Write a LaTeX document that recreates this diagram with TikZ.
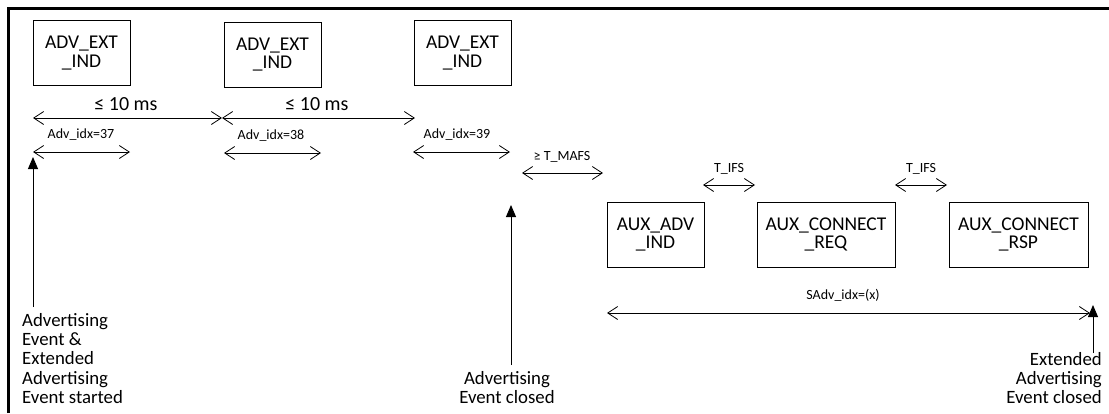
\documentclass[tikz,border=0pt]{standalone}
\usepackage{fontspec}
\setmainfont{Carlito}
\usetikzlibrary{arrows.meta,positioning}

\begin{document}
\begin{tikzpicture}[
  x=1pt, y=-1pt,
  pkt/.style={draw, line width=0.9pt, align=center, inner sep=0pt, minimum width=97pt, minimum height=65pt, font=\fontsize{19.5}{18.5}\selectfont},
  span/.style={{Straight Barb[length=10pt,width=13pt]}-{Straight Barb[length=10pt,width=13pt]}, line width=0.8pt},
  evt/.style={-{Triangle[length=12pt,width=10pt]}, line width=0.9pt},
  lbl/.style={inner sep=0pt, font=\fontsize{14}{16}\selectfont},
  gap/.style={inner sep=0pt, font=\fontsize{20}{22}\selectfont},
  note/.style={inner sep=0pt, font=\fontsize{18.8}{19.3}\selectfont}
]
  \useasboundingbox (0,0) rectangle (1109,413);
  \draw[line width=3pt] (8,413) -- (8,8) -- (1109,8);

  % advertising packets
  \node[pkt] (ext1) at (81.5,53) {ADV\_EXT\\\_IND};
  \node[pkt] (ext2) at (272.5,54.5) {ADV\_EXT\\\_IND};
  \node[pkt] (ext3) at (462.5,53) {ADV\_EXT\\\_IND};

  % auxiliary packets
  \node[pkt] (auxadv) at (655.5,234.5) {AUX\_ADV\\\_IND};
  \node[pkt, minimum width=138pt] (auxreq) at (826,234.5) {AUX\_CONNECT\\\_REQ};
  \node[pkt, minimum width=139pt] (auxrsp) at (1018.5,234.5) {AUX\_CONNECT\\\_RSP};

  % interval end points
  \coordinate (i0) at (33,118);
  \coordinate (i1) at (222,118);
  \coordinate (i2) at (415,118);
  \coordinate (a1l) at (33,152);  \coordinate (a1r) at (130,152);
  \coordinate (a2l) at (224,153); \coordinate (a2r) at (321,153);
  \coordinate (a3l) at (413,152); \coordinate (a3r) at (510,152);
  \coordinate (mafsl) at (522,173); \coordinate (mafsr) at (603,173);
  \coordinate (ifs1l) at (703,185); \coordinate (ifs1r) at (755,185);
  \coordinate (ifs2l) at (895,185); \coordinate (ifs2r) at (947,185);
  \coordinate (sadvl) at (607,313); \coordinate (sadvr) at (1090,313);

  \draw[span] (i0) -- (i1);
  \draw[span] (i1) -- (i2);
  \draw[span] (a1l) -- (a1r);
  \draw[span] (a2l) -- (a2r);
  \draw[span] (a3l) -- (a3r);
  \draw[span] (mafsl) -- (mafsr);
  \draw[span] (ifs1l) -- (ifs1r);
  \draw[span] (ifs2l) -- (ifs2r);
  \draw[span] (sadvl) -- (sadvr);

  \node[gap] (int1) at (126,104) {≤ 10 ms};
  \node[gap] (int2) at (317,104) {≤ 10 ms};
  \node[lbl] (idx37) at (81,135) {Adv\_idx=37};
  \node[lbl] (idx38) at (271,136) {Adv\_idx=38};
  \node[lbl] (idx39) at (457,135) {Adv\_idx=39};
  \node[lbl] (mafs) at (562,157) {≥ T\_MAFS};
  \node[lbl] (ifs1) at (729,169) {T\_IFS};
  \node[lbl] (ifs2) at (921,169) {T\_IFS};
  \node[lbl] (sadv) at (843,295) {SAdv\_idx=(x)};

  % event markers
  \node[note, anchor=north west, align=left] (started) at (22,313) {Advertising\\Event \&\\Extended\\Advertising\\Event started};
  \node[note, anchor=north, align=center] (closed) at (507,371) {Advertising\\Event closed};
  \node[note, anchor=north east, align=right] (extclosed) at (1102,352) {Extended\\Advertising\\Event closed};

  \coordinate (s0) at (33,307);  \coordinate (s1) at (33,157);
  \coordinate (c0) at (511,365); \coordinate (c1) at (511,205);
  \coordinate (e0) at (1093,353); \coordinate (e1) at (1093,305);
  \draw[evt] (s0) -- (s1);
  \draw[evt] (c0) -- (c1);
  \draw[evt] (e0) -- (e1);
\end{tikzpicture}
\end{document}
